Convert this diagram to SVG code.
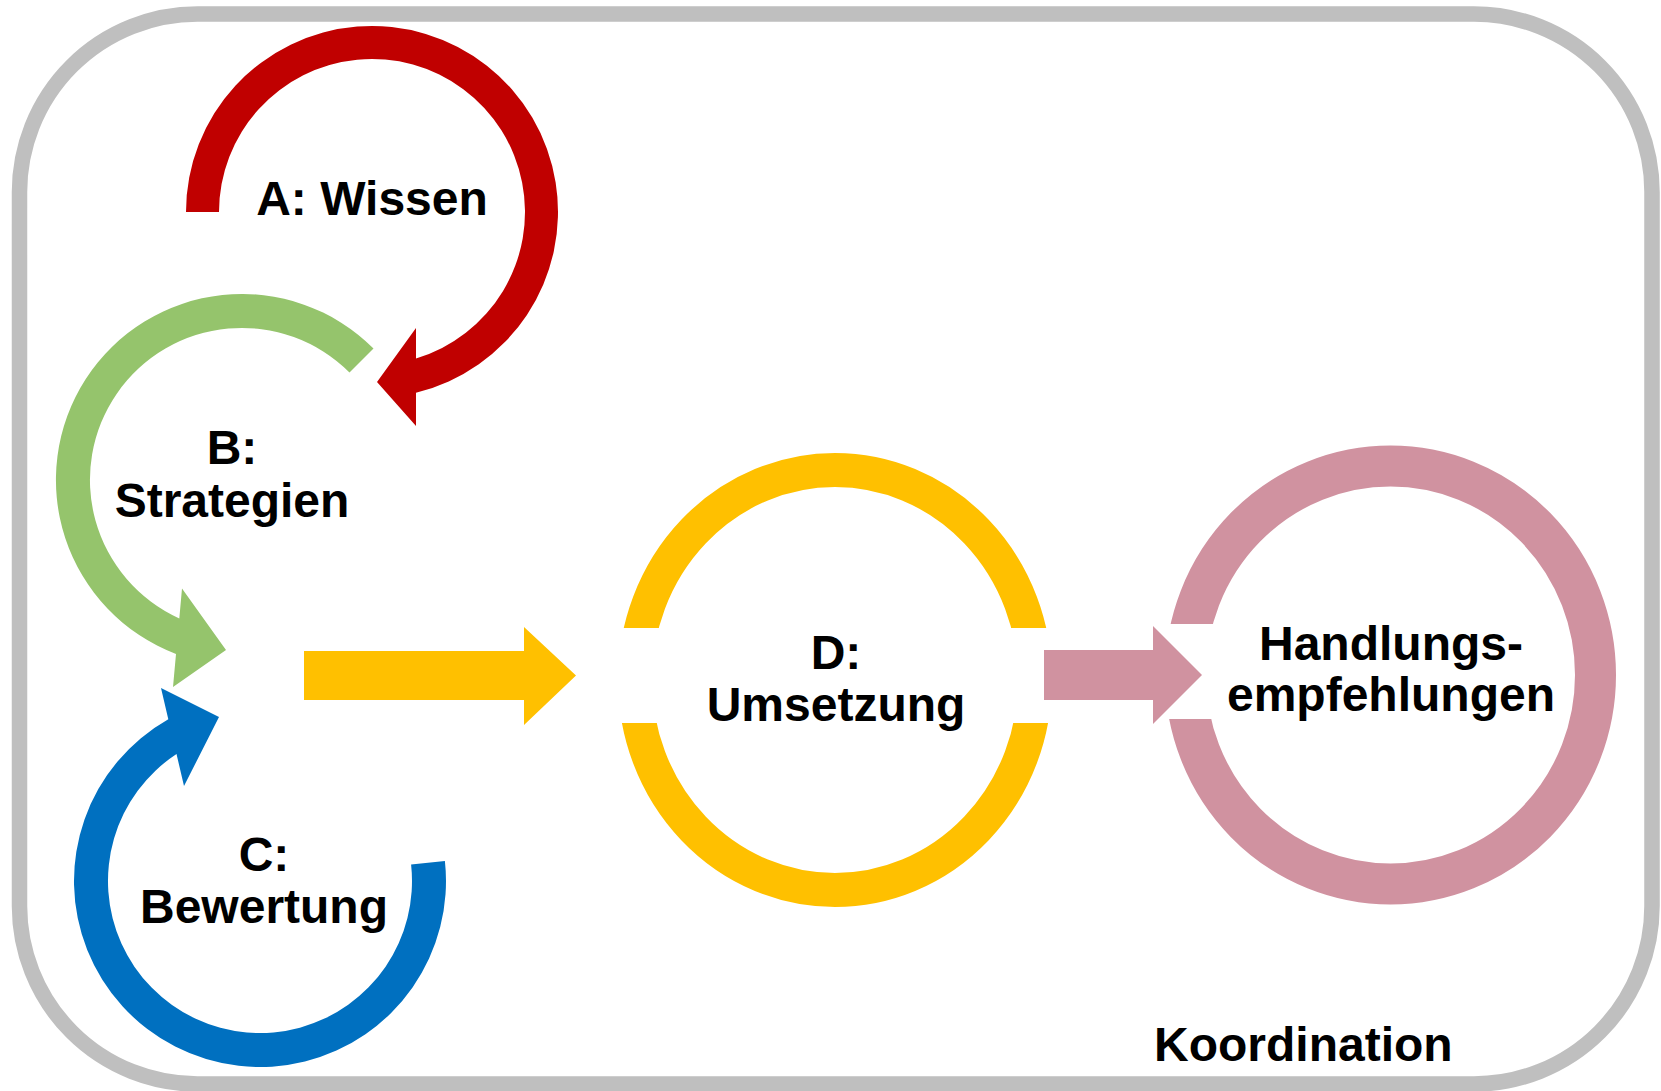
<svg xmlns="http://www.w3.org/2000/svg" width="1661" height="1091" viewBox="0 0 1661 1091">
<style>
.lbl{font-family:"Liberation Sans",Arial,sans-serif;font-weight:bold;font-size:48px;fill:#000;text-anchor:middle}
</style>
<defs>
<clipPath id="clipD"><rect x="0" y="0" width="1661" height="628"/><rect x="0" y="723" width="1661" height="368"/></clipPath>
<clipPath id="clipH"><rect x="0" y="0" width="1661" height="624"/><rect x="0" y="719" width="1661" height="372"/><rect x="1300" y="600" width="361" height="140"/></clipPath>
</defs>
<rect width="1661" height="1091" fill="#fff"/>
<g id="frame">
<rect x="19.5" y="14" width="1632.5" height="1070" rx="178" ry="178" fill="none" stroke="#BFBFBF" stroke-width="15.5"/>
<text class="lbl" x="1154" y="1061" style="text-anchor:start">Koordination</text>
</g>
<g id="nodeA">
<path d="M186,212 A186,186 0 1 1 416,392.7 L416,426 L377,382 L416,328 L416,358.5 A153,153 0 1 0 219,212 Z" fill="#C00000"/>
<text class="lbl" x="372" y="215">A: Wissen</text>
</g>
<g id="nodeB">
<path d="M373.5,348.5 A186,186 0 1 0 176,653.9 L173,687 L226,650 L182,588.5 L179.3,618.4 A152,152 0 1 1 349.5,372.5 Z" fill="#95C46C"/>
<text class="lbl" x="232" y="464">B:</text>
<text class="lbl" x="232" y="517">Strategien</text>
</g>
<g id="nodeC">
<path d="M444.9,860.9 A186,186 0 1 1 168.3,719.2 L161,688 L219,717 L184,786 L176.5,754 A152,152 0 1 0 411.1,864.6 Z" fill="#0070C0"/>
<text class="lbl" x="264" y="870.5">C:</text>
<text class="lbl" x="264" y="923">Bewertung</text>
</g>
<g id="nodeD">
<ellipse cx="835" cy="680" rx="200" ry="210" fill="none" stroke="#FFC000" stroke-width="34" clip-path="url(#clipD)"/>
<text class="lbl" x="836" y="669">D:</text>
<text class="lbl" x="836" y="721">Umsetzung</text>
</g>
<g id="nodeH">
<ellipse cx="1390.5" cy="675" rx="205" ry="209" fill="none" stroke="#D092A0" stroke-width="41" clip-path="url(#clipH)"/>
<text class="lbl" x="1391" y="660">Handlungs-</text>
<text class="lbl" x="1391" y="711">empfehlungen</text>
</g>
<g id="connectors">
<path d="M304,651 H524 V627 L576,675.5 L524,725 V700 H304 Z" fill="#FFC000"/>
<path d="M1044,650 H1153 V626 L1202,675 L1153,724 V700 H1044 Z" fill="#D092A0"/>
</g>
</svg>
